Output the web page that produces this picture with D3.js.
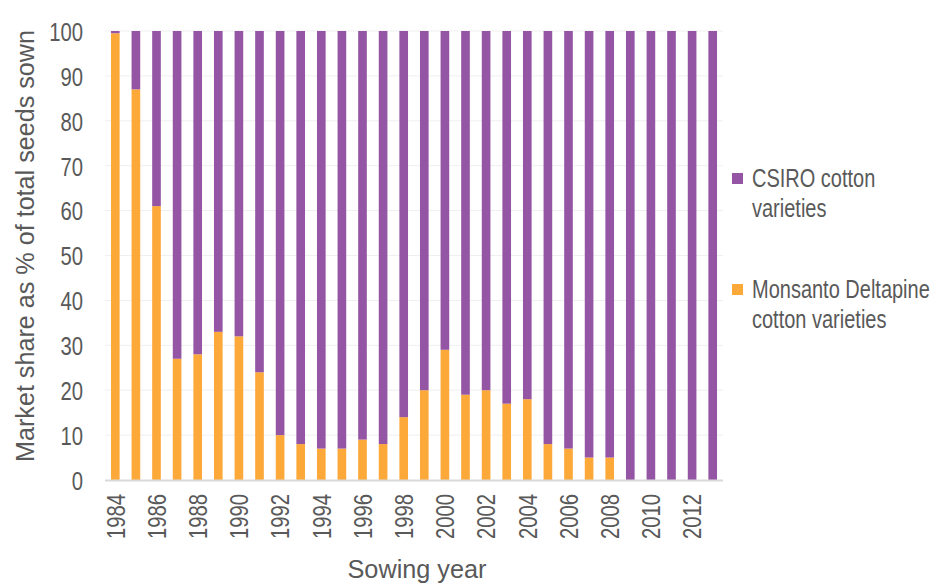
<!DOCTYPE html>
<html>
<head>
<meta charset="utf-8">
<script src="https://cdn.jsdelivr.net/npm/d3@7"></script>
<style>
  body { margin: 0; background: #fff; }
  text { font-family: "Liberation Sans", Arial, sans-serif; fill: #595959; }
</style>
</head>
<body>
<script>
var years = d3.range(1984, 2014);
var monsanto = [99.5, 87, 61, 27, 28, 33, 32, 24, 10, 8, 7, 7, 9, 8, 14, 20, 29, 19, 20, 17, 18, 8, 7, 5, 5, 0, 0, 0, 0, 0];
var csiro = monsanto.map(function(v) { return 100 - v; });
var yTicks = [0, 10, 20, 30, 40, 50, 60, 70, 80, 90, 100];
var xTickYears = years.filter(function(y) { return y % 2 === 0; });

var w = 942, h = 583;
var plotLeft = 105, plotRight = 723, plotTop = 31, plotBottom = 480;
var squeeze = 0.78;   // fake a narrow font

var svg = d3.select("body").append("svg")
  .attr("width", w)
  .attr("height", h);

var xScale = d3.scaleBand()
  .domain(years)
  .range([plotLeft, plotRight])
  .paddingInner(0.58)
  .paddingOuter(0.29);

var yScale = d3.scaleLinear()
  .domain([0, 100])
  .range([plotBottom, plotTop]);

// gridlines
svg.append("g")
  .selectAll("line")
  .data(yTicks.slice(1))
  .enter().append("line")
  .attr("x1", plotLeft)
  .attr("x2", plotRight)
  .attr("y1", function(d) { return yScale(d); })
  .attr("y2", function(d) { return yScale(d); })
  .attr("stroke", "#efefef")
  .attr("stroke-width", 1);

// stacked bars
svg.append("g")
  .selectAll("rect")
  .data(years)
  .enter().append("rect")
  .attr("x", function(d) { return xScale(d); })
  .attr("width", xScale.bandwidth())
  .attr("y", function(d, i) { return yScale(monsanto[i]); })
  .attr("height", function(d, i) { return plotBottom - yScale(monsanto[i]); })
  .attr("fill", "#fca93a");

svg.append("g")
  .selectAll("rect")
  .data(years)
  .enter().append("rect")
  .attr("x", function(d) { return xScale(d); })
  .attr("width", xScale.bandwidth())
  .attr("y", function(d, i) { return yScale(monsanto[i] + csiro[i]); })
  .attr("height", function(d, i) { return yScale(monsanto[i]) - yScale(monsanto[i] + csiro[i]); })
  .attr("fill", "#9456a4");

// y axis
var yAxis = d3.axisLeft(yScale)
  .tickValues(yTicks)
  .tickSize(0)
  .tickPadding(0);

var gy = svg.append("g")
  .attr("transform", "translate(83,0) scale(" + squeeze + ",1)")
  .call(yAxis);
gy.select(".domain").remove();
gy.selectAll("text")
  .style("font-size", "26px")
  .attr("dy", "0.36em");

// x axis
var xAxis = d3.axisBottom(xScale)
  .tickValues(xTickYears)
  .tickSize(0)
  .tickPadding(0);

var gx = svg.append("g")
  .attr("transform", "translate(0," + plotBottom + ")")
  .call(xAxis);
gx.select(".domain")
  .attr("d", "M" + plotLeft + ",0.5H" + plotRight)
  .attr("stroke", "#d9d9d9")
  .attr("stroke-width", 2);
gx.selectAll("text")
  .style("font-size", "26px")
  .attr("text-anchor", "end")
  .attr("transform", "rotate(-90) scale(" + squeeze + ",1)")
  .attr("x", -14 / squeeze)
  .attr("y", 0)
  .attr("dy", "0.36em");

// axis titles
svg.append("text")
  .attr("transform", "translate(34,246) rotate(-90)")
  .attr("text-anchor", "middle")
  .attr("textLength", 432)
  .attr("lengthAdjust", "spacingAndGlyphs")
  .style("font-size", "25px")
  .text("Market share as % of total seeds sown");

svg.append("text")
  .attr("x", 417)
  .attr("y", 578)
  .attr("text-anchor", "middle")
  .attr("textLength", 139)
  .attr("lengthAdjust", "spacingAndGlyphs")
  .style("font-size", "26px")
  .text("Sowing year");

// legend
var legend = [
  { label: ["CSIRO cotton", "varieties"], color: "#9456a4", y: 173 },
  { label: ["Monsanto Deltapine", "cotton varieties"], color: "#fca93a", y: 284 }
];

var lg = svg.append("g").selectAll("g")
  .data(legend)
  .enter().append("g");

lg.append("rect")
  .attr("x", 732)
  .attr("y", function(d) { return d.y; })
  .attr("width", 11)
  .attr("height", 11)
  .attr("fill", function(d) { return d.color; });

lg.each(function(d) {
  var g = d3.select(this);
  d.label.forEach(function(s, i) {
    g.append("text")
      .attr("transform", "translate(752," + (d.y + 14 + i * 30) + ") scale(0.8,1)")
      .style("font-size", "25px")
      .text(s);
  });
});
</script>
</body>
</html>
